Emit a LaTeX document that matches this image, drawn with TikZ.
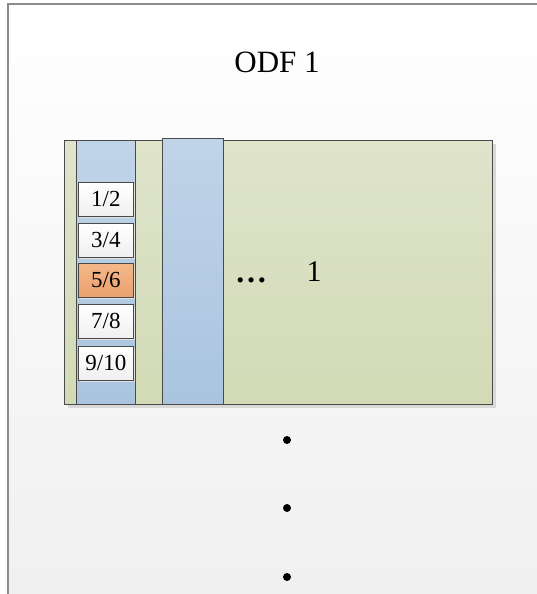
\documentclass[tikz,border=0pt]{standalone}
\usepackage{fontspec}
\setmainfont{Liberation Serif}
\usetikzlibrary{shadows}
\definecolor{frameg}{HTML}{8C8C8C}
\definecolor{edge}{HTML}{4A4A4A}
\definecolor{grtop}{HTML}{DFE4CB}
\definecolor{grbot}{HTML}{D2DAB5}
\definecolor{bltop}{HTML}{C0D4E8}
\definecolor{blbot}{HTML}{AAC4DF}
\definecolor{ortop}{HTML}{F4B888}
\definecolor{orbot}{HTML}{E9A070}
\tikzset{
  panel/.style={draw=edge, line width=1pt, inner sep=0pt, anchor=north west},
  greenpanel/.style={panel, top color=grtop, bottom color=grbot, drop shadow={shadow xshift=3pt, shadow yshift=-3pt, fill=black!15, opacity=1}},
  bluestrip/.style={panel, top color=bltop, bottom color=blbot},
  slot/.style={draw=edge, line width=0.8pt, inner sep=0pt, anchor=north west, minimum width=55pt, minimum height=34pt, top color=white, bottom color=black!6, font=\fontsize{23}{23}\selectfont, drop shadow={shadow xshift=2pt, shadow yshift=-2pt, fill=black!12, opacity=1}},
  hotslot/.style={slot, top color=ortop, bottom color=orbot},
  bigdot/.style={fill=black},
}
\begin{document}
\begin{tikzpicture}[x=1pt,y=-1pt]
\useasboundingbox (0,0) rectangle (536,594);
\shade[top color=white, bottom color=black!6] (8,4) rectangle (540,600);
\draw[frameg, line width=1.6pt] (8,600) -- (8,4) -- (540,4);
\node[font=\fontsize{31}{31}\selectfont] (title) at (277,62) {ODF 1};
\node[greenpanel, minimum width=428pt, minimum height=264pt] (green) at (64,140) {};
\node[bluestrip, minimum width=59pt, minimum height=264pt] (strip1) at (76,140) {};
\node[bluestrip, minimum width=61pt, minimum height=266pt] (strip2) at (162,138) {};
\node[slot] (s12) at (78,182) {1/2};
\node[slot] (s34) at (78,223) {3/4};
\node[hotslot] (s56) at (78,263) {5/6};
\node[slot] (s78) at (78,304) {7/8};
\node[slot] (s910) at (78,346) {9/10};
\node[font=\fontsize{32}{32}\selectfont\bfseries, anchor=base] (dots) at (251,282) {…};
\node[font=\fontsize{30}{30}\selectfont] (one) at (314,272) {1};
\fill[bigdot] (287,440) circle (4pt);
\fill[bigdot] (287,508) circle (4pt);
\fill[bigdot] (287,577) circle (4pt);
\end{tikzpicture}
\end{document}
